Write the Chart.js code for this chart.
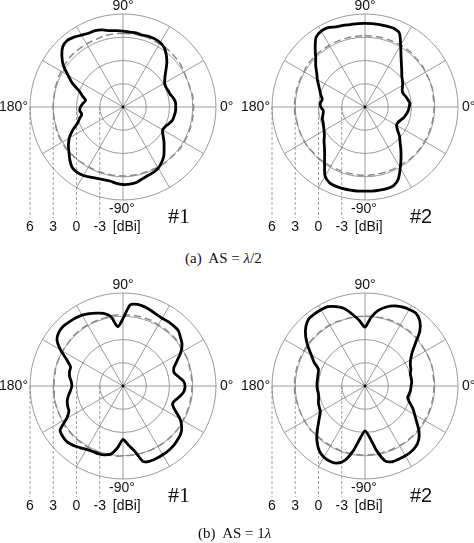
<!DOCTYPE html>
<html>
<head>
<meta charset="utf-8">
<script src="https://cdn.jsdelivr.net/npm/chart.js@4"></script>
<style>
  body { margin: 0; background: #fff; }
  #wrap { position: relative; width: 474px; height: 543px; overflow: hidden; }
  #wrap canvas { position: absolute; }
  .cap { position: absolute; font-family: "Liberation Serif", "Times New Roman", serif;
         font-size: 15px; color: #111; white-space: pre; line-height: 16px; }
</style>
</head>
<body>
<div id="wrap">
  <canvas id="c1" width="237" height="250" style="left:0;top:0"></canvas>
  <canvas id="c2" width="237" height="250" style="left:237px;top:0"></canvas>
  <canvas id="c3" width="237" height="250" style="left:0;top:279px"></canvas>
  <canvas id="c4" width="237" height="250" style="left:237px;top:279px"></canvas>
  <div class="cap" style="left:185px;top:250px">(a)  AS = <i>λ</i>/2</div>
  <div class="cap" style="left:198px;top:525px">(b)  AS = 1<i>λ</i></div>
</div>
<script>
// azimuth angle (deg, counter-clockwise from 0° at the right), 5° steps
const angles = [];
for (let a = 0; a < 360; a += 5) angles.push(a);

// gain in dBi, one value per angle
const a1Solid = [0.8, 0.8, 0.6, 0.3, 0.2, 0.1, 0.2, 0.6, 1.2, 2.0,
  2.7, 3.3, 3.6, 3.7, 3.7, 3.6, 3.7, 3.7, 3.8, 3.9,
  4.0, 4.3, 4.5, 4.5, 4.7, 5.0, 5.2, 5.0, 4.3, 3.4,
  2.2, 1.2, 0.0, -0.6, -1.1, -0.8, -0.5, -0.4, -0.6, -0.2,
  0.3, 1.2, 2.0, 2.6, 3.1, 3.7, 4.2, 4.3, 4.2, 4.0,
  3.8, 3.7, 3.7, 3.9, 4.0, 4.0, 3.9, 3.6, 3.4, 3.3,
  3.1, 2.7, 2.2, 1.5, 0.9, 0.3, -0.1, 0.0, 0.3, 0.6,
  0.7, 0.8];
const a1Dashed = [3.1, 3.1, 3.1, 3.0, 3.0, 3.0, 3.1, 3.2, 3.3, 3.3,
  3.4, 3.4, 3.4, 3.4, 3.5, 3.5, 3.5, 3.5, 3.5, 3.5,
  3.5, 3.5, 3.4, 3.4, 3.4, 3.4, 3.4, 3.4, 3.3, 3.3,
  3.2, 3.2, 3.1, 3.1, 3.0, 3.0, 3.0, 3.0, 3.0, 3.0,
  3.1, 3.1, 3.1, 3.1, 3.1, 3.0, 3.0, 2.9, 2.9, 2.9,
  2.9, 2.9, 2.9, 2.9, 2.9, 2.9, 2.9, 2.9, 2.9, 2.9,
  3.0, 3.0, 3.0, 3.0, 3.1, 3.1, 3.1, 3.1, 3.1, 3.1,
  3.1, 3.1];
const a2Solid = [-0.3, -0.2, -0.4, -0.6, -0.8, -0.7, -0.4, -0.1, 0.2, 0.7,
  1.3, 2.1, 3.2, 4.5, 4.8, 4.8, 4.8, 4.8, 4.8, 4.8,
  4.8, 4.9, 5.0, 5.3, 5.3, 5.0, 4.0, 3.0, 2.3, 1.6,
  1.1, 0.6, 0.2, -0.1, -0.4, -0.2, -0.3, -0.6, -0.5, -0.3,
  -0.25, -0.1, 0.1, 0.4, 0.9, 1.4, 2.1, 3.1, 4.3, 4.8,
  4.9, 4.9, 4.9, 4.9, 4.85, 4.9, 4.9, 4.9, 4.8, 4.2,
  3.1, 2.1, 1.2, 0.4, -0.2, -0.9, -1.3, -1.3, -1.1, -0.8,
  -0.6, -0.4];
const a2Dashed = [2.9, 2.9, 2.9, 3.0, 3.0, 3.0, 3.0, 3.1, 3.1, 3.1,
  3.2, 3.2, 3.2, 3.2, 3.2, 3.2, 3.2, 3.2, 3.2, 3.2,
  3.2, 3.2, 3.2, 3.2, 3.2, 3.2, 3.2, 3.2, 3.2, 3.2,
  3.1, 3.1, 3.1, 3.1, 3.1, 3.1, 3.1, 3.1, 3.0, 3.0,
  3.0, 3.0, 3.0, 3.0, 2.9, 2.9, 2.9, 2.9, 2.8, 2.8,
  2.8, 2.8, 2.8, 2.8, 2.8, 2.8, 2.8, 2.8, 2.8, 2.8,
  2.8, 2.8, 2.9, 2.9, 2.9, 2.9, 2.9, 2.9, 2.9, 2.9,
  2.9, 2.9];
const b1Solid = [2.0, 1.8, 1.2, 0.8, 1.0, 1.7, 2.6, 3.3, 3.7, 4.1,
  4.15, 4.15, 4.1, 4.2, 4.4, 4.6, 4.7, 4.5, 2.7, 1.7,
  3.1, 3.7, 4.0, 4.3, 4.55, 4.7, 4.8, 4.9, 4.8, 4.4,
  3.3, 2.0, 1.2, 1.15, 1.0, 0.7, 0.6, 0.8, 1.15, 1.45,
  1.6, 1.7, 2.4, 3.9, 4.15, 4.2, 4.0, 3.7, 3.45, 3.3,
  3.3, 3.2, 2.9, 2.0, 0.9, 1.6, 2.5, 4.1, 4.3, 4.3,
  4.25, 4.2, 4.1, 3.9, 3.7, 3.25, 2.5, 1.4, 0.8, 1.0,
  1.5, 1.9];
const b1Dashed = [2.9, 2.9, 2.9, 2.9, 3.0, 3.0, 3.0, 3.0, 3.1, 3.1,
  3.1, 3.1, 3.1, 3.2, 3.2, 3.2, 3.2, 3.2, 3.2, 3.2,
  3.2, 3.1, 3.1, 3.1, 3.1, 3.1, 3.1, 3.1, 3.0, 3.0,
  3.0, 3.0, 3.0, 3.0, 2.9, 2.9, 2.9, 2.9, 3.0, 3.0,
  3.0, 3.0, 3.0, 3.1, 3.1, 3.1, 3.1, 3.1, 3.1, 3.1,
  3.1, 3.1, 3.1, 3.1, 3.0, 3.0, 3.0, 3.0, 3.0, 3.0,
  3.0, 3.0, 3.0, 3.0, 3.0, 3.0, 2.9, 2.9, 2.9, 2.9,
  2.9, 2.9];
const b2Solid = [-0.05, 0.05, 0.05, 0.05, 0.3, 0.45, 0.8, 1.4, 2.45, 4.0,
  5.0, 5.45, 5.4, 5.25, 5.0, 4.55, 3.9, 2.9, 1.6, 2.5,
  3.4, 4.35, 4.9, 5.3, 5.35, 5.35, 5.3, 4.8, 4.0, 3.0,
  2.0, 1.25, 0.4, 0.25, 0.2, 0.2, 0.2, 0.15, 0.1, 0.2,
  0.4, 0.5, 0.65, 1.2, 1.9, 2.8, 3.6, 4.25, 4.6, 4.7,
  4.6, 3.9, 2.4, 0.7, -0.2, 0.6, 2.4, 4.0, 4.4, 4.4,
  4.4, 4.35, 4.2, 3.8, 3.1, 2.15, 1.4, 0.8, 0.1, -0.3,
  -0.2, -0.1];
const b2Dashed = [2.9, 2.9, 2.9, 3.0, 3.0, 3.0, 3.0, 3.0, 3.1, 3.1,
  3.1, 3.1, 3.1, 3.1, 3.1, 3.1, 3.0, 3.0, 3.0, 3.0,
  3.0, 3.0, 3.0, 3.1, 3.1, 3.1, 3.1, 3.1, 3.1, 3.1,
  3.1, 3.1, 3.1, 3.1, 3.1, 3.1, 3.1, 3.1, 3.1, 3.0,
  3.0, 3.0, 3.0, 3.0, 3.0, 2.9, 2.9, 2.9, 2.9, 2.9,
  2.9, 2.9, 2.9, 2.9, 2.9, 2.9, 2.9, 2.9, 2.9, 2.9,
  2.9, 2.9, 2.9, 2.9, 2.9, 2.9, 2.9, 2.9, 2.9, 2.9,
  2.9, 2.9];

// radial tick labels and the angle labels round the circle
const dbTicks = [6, 3, 0, -3];
const dbUnit = '[dBi]';
const angleLabels = { top: '90°', left: '180°', right: '0°', bottom: '-90°' };

// Radar draws index 0 at the top and goes clockwise, so index i is angle 90 - 5i
function toRadarOrder(vals) {
  return angles.map((_, i) => {
    const a = ((90 - 5 * i) % 360 + 360) % 360;
    return vals[angles.indexOf(a)];
  });
}

const SANS = '"Liberation Sans", Arial, sans-serif';
const SERIF = '"Liberation Serif", "Times New Roman", serif';

function annotations(tag, tagSerif) {
  return {
    id: 'annot',
    beforeDatasetsDraw(chart) {
      const s = chart.scales.r, ctx = chart.ctx;
      const cy = s.yCenter, R = s.drawingArea;
      ctx.save();
      ctx.strokeStyle = '#777';
      ctx.lineWidth = 0.7;
      ctx.setLineDash([3, 2]);
      dbTicks.forEach(v => {
        const x = s.xCenter - s.getDistanceFromCenterForValue(v);
        ctx.beginPath();
        ctx.moveTo(x, cy);
        ctx.lineTo(x, cy + R + 18);
        ctx.stroke();
      });
      ctx.restore();
    },
    afterDraw(chart) {
      const s = chart.scales.r, ctx = chart.ctx;
      const cx = s.xCenter, cy = s.yCenter, R = s.drawingArea;
      ctx.save();
      ctx.fillStyle = '#000';
      ctx.beginPath();
      ctx.arc(cx, cy, 1.4, 0, Math.PI * 2);
      ctx.fill();

      ctx.fillStyle = '#111';
      ctx.font = '14px ' + SANS;
      ctx.textBaseline = 'middle';
      ctx.textAlign = 'center';
      ctx.fillText(angleLabels.top, cx, cy - R - 8);
      ctx.fillText(angleLabels.bottom, cx - 1, cy + R + 9);
      ctx.textAlign = 'right';
      ctx.fillText(angleLabels.left, cx - R - 2, cy);
      ctx.textAlign = 'left';
      ctx.fillText(angleLabels.right, cx + R + 4, cy);

      ctx.textAlign = 'center';
      let lastX = 0;
      dbTicks.forEach(v => {
        const x = cx - s.getDistanceFromCenterForValue(v);
        ctx.fillText(String(v), x, cy + R + 27);
        lastX = x;
      });
      ctx.textAlign = 'left';
      ctx.fillText(dbUnit, lastX + 13, cy + R + 27);

      ctx.textBaseline = 'alphabetic';
      ctx.font = tagSerif ? '22px ' + SERIF : '20px ' + SANS;
      ctx.fillText(tag, cx + 45, cy + R + 23);
      ctx.restore();
    }
  };
}

function makePolar(id, solid, dashed, tag, tagSerif, padLeft) {
  new Chart(document.getElementById(id), {
    type: 'radar',
    data: {
      labels: toRadarOrder(angles),
      datasets: [
        {
          data: toRadarOrder(solid),
          borderColor: '#000',
          borderWidth: 2.8,
          pointRadius: 0,
          fill: false,
          tension: 0.25
        },
        {
          data: toRadarOrder(dashed),
          borderColor: '#8a8a8a',
          borderWidth: 1.5,
          borderDash: [7, 4],
          pointRadius: 0,
          fill: false,
          tension: 0.25
        }
      ]
    },
    options: {
      responsive: false,
      animation: false,
      layout: { padding: { left: padLeft, top: 14, right: 237 - 186 - padLeft, bottom: 50 } },
      plugins: { legend: { display: false }, tooltip: { enabled: false } },
      scales: {
        r: {
          min: -6,
          max: 6,
          ticks: { stepSize: 3, display: false },
          grid: { circular: true, color: '#8f8f8f', lineWidth: 0.9 },
          angleLines: { color: '#8f8f8f', lineWidth: c => (c.index % 6 === 0 ? 0.9 : 0) },
          pointLabels: { display: false }
        }
      }
    },
    plugins: [annotations(tag, tagSerif)]
  });
}

makePolar('c1', a1Solid, a1Dashed, '#1', true, 30);
makePolar('c2', a2Solid, a2Dashed, '#2', false, 35);
makePolar('c3', b1Solid, b1Dashed, '#1', true, 30);
makePolar('c4', b2Solid, b2Dashed, '#2', false, 35);
</script>
</body>
</html>
